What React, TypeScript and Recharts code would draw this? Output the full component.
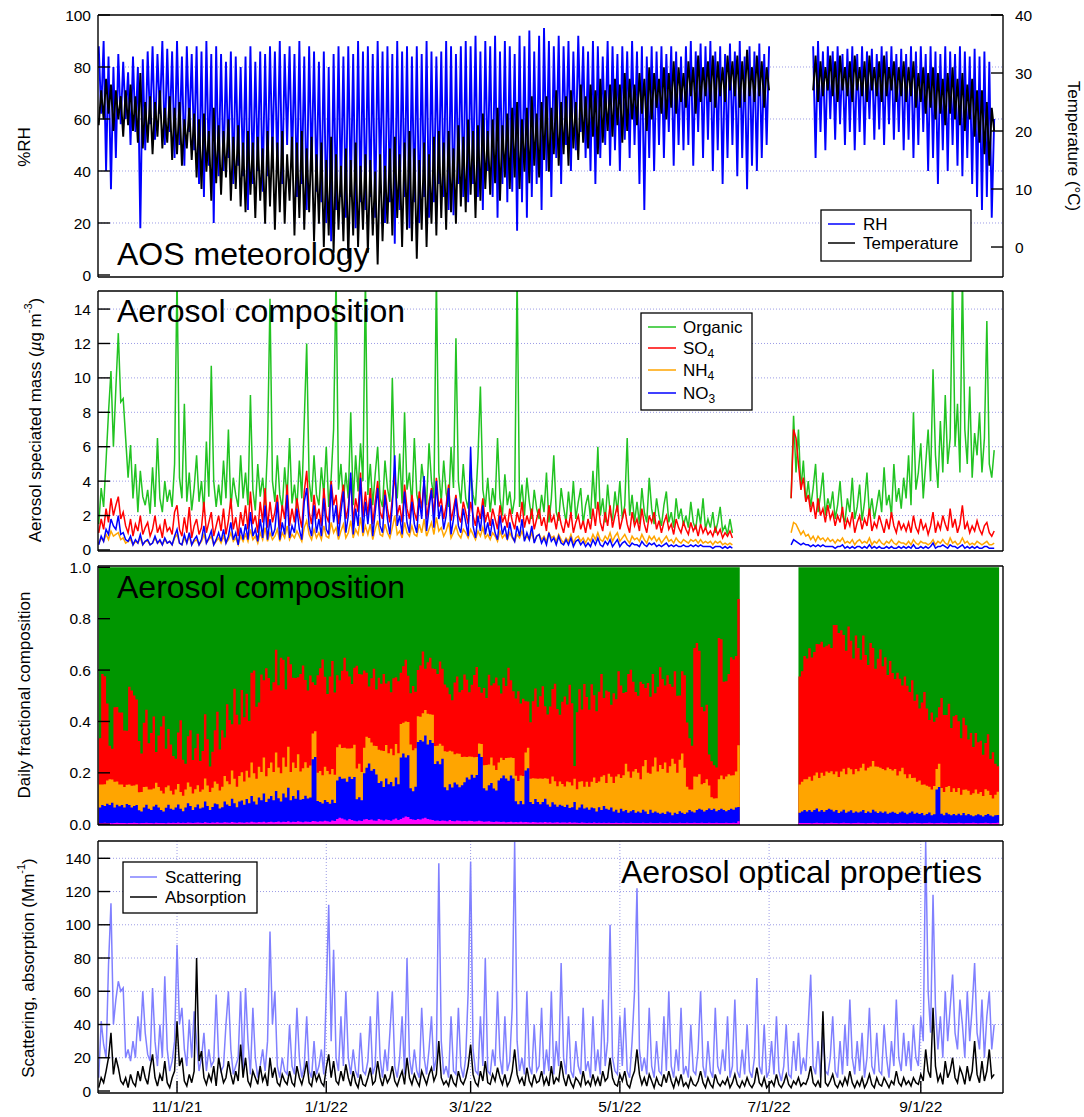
import { ComposedChart, Line, Area, XAxis, YAxis, CartesianGrid } from "recharts"

// day index 0 = 9/29/21, one value per day
const dateTicks = [32, 93, 152, 213, 274, 336]
const dateLabels = ["11/1/21", "1/1/22", "3/1/22", "5/1/22", "7/1/22", "9/1/22"]

// %RH
const rh: (number | null)[] = [
  88, 62, 90, 40, 84, 33, 80, 45, 85, 58, 82, 60, 78, 50, 84, 55, 80, 18, 83, 48,
  86, 58, 88, 52, 85, 62, 90, 50, 87, 55, 86, 45, 90, 50, 84, 42, 88, 55, 85, 48,
  88, 35, 86, 30, 90, 42, 85, 20, 88, 38, 85, 40, 82, 45, 86, 35, 84, 42, 80, 38,
  84, 25, 88, 35, 82, 40, 86, 32, 85, 38, 88, 45, 86, 40, 90, 35, 85, 50, 88, 42,
  85, 30, 90, 35, 84, 25, 88, 40, 86, 32, 82, 28, 86, 20, 80, 13, 85, 25, 88, 30,
  84, 22, 88, 30, 85, 18, 90, 28, 86, 25, 88, 30, 85, 22, 90, 35, 86, 20, 88, 28,
  85, 12, 90, 25, 86, 30, 88, 18, 84, 28, 88, 20, 85, 30, 90, 22, 86, 28, 84, 35,
  86, 30, 90, 25, 88, 23, 85, 35, 88, 30, 90, 28, 88, 35, 92, 30, 86, 25, 90, 40,
  88, 30, 92, 22, 86, 35, 90, 28, 88, 32, 85, 17, 92, 28, 88, 22, 94, 30, 86, 35,
  92, 25, 95, 40, 90, 30, 88, 45, 92, 35, 88, 50, 90, 40, 86, 48, 92, 55, 88, 45,
  86, 40, 90, 35, 88, 45, 84, 50, 90, 42, 88, 48, 85, 40, 88, 52, 86, 45, 90, 50,
  86, 35, 88, 25, 84, 45, 88, 40, 86, 50, 88, 45, 85, 55, 88, 42, 86, 50, 84, 48,
  88, 50, 90, 42, 86, 55, 89, 45, 88, 52, 90, 40, 86, 48, 88, 35, 85, 45, 89, 50,
  86, 38, 90, 45, 84, 33, 88, 42, 86, 40, 89, 45, 85, 50, 88,
  null, null, null, null, null, null, null, null, null, null, null, null, null, null, null, null, null,
  88, 45, 90, 55, 86, 48, 88, 60,
  86, 52, 88, 58, 85, 50, 87, 55, 88, 48, 85, 55, 88, 50, 86, 60, 87, 52, 85, 56,
  88, 50, 86, 58, 88, 52, 85, 55, 87, 48, 85, 52, 88, 45, 86, 50, 88, 55, 85, 40,
  88, 45, 86, 35, 85, 48, 88, 40, 86, 50, 85, 42, 88, 38, 86, 45, 84, 35, 87, 30,
  84, 25, 86, 30, 82, 22, 60, null, null,
]

// °C
const temp: (number | null)[] = [
  21, 27, 22, 29, 23, 28, 20, 27, 22, 26, 19, 27, 21, 28, 20, 26, 18, 30, 17, 25,
  18, 26, 16, 25, 19, 27, 17, 24, 18, 26, 15, 24, 16, 25, 14, 22, 17, 24, 15, 23,
  12, 22, 10, 23, 13, 20, 8, 24, 11, 21, 9, 20, 12, 22, 8, 19, 10, 21, 7, 18,
  6, 20, 9, 18, 5, 19, 8, 17, 4, 20, 7, 19, 3, 18, 6, 20, 4, 16, 8, 19,
  2, 18, 5, 20, 3, 17, 6, 19, 1, 16, 4, 18, 0, 15, 2, 19, -1, 16, 3, 14,
  1, 17, -2, 15, 2, 18, 0, 14, 3, 16, -1, 15, 2, 13, -3, 16, 1, 14, 4, 17,
  2, 19, 5, 16, 0, 18, 3, 20, 1, 17, -2, 15, 3, 18, 0, 16, 4, 19, 2, 20,
  5, 18, 3, 20, 6, 17, 4, 21, 7, 19, 6, 22, 9, 20, 5, 21, 8, 23, 10, 20,
  9, 22, 11, 24, 8, 21, 12, 23, 10, 24, 12, 25, 10, 22, 13, 24, 11, 26, 14, 23,
  12, 25, 15, 26, 13, 24, 16, 27, 14, 25, 16, 26, 14, 27, 17, 25, 15, 28, 18, 26,
  17, 28, 19, 27, 16, 29, 18, 27, 20, 28, 19, 29, 21, 28, 18, 30, 20, 29, 22, 28,
  21, 30, 23, 29, 20, 31, 22, 30, 24, 29, 23, 31, 22, 30, 24, 32, 23, 31, 25, 30,
  24, 32, 26, 31, 23, 33, 25, 31, 26, 32, 25, 33, 24, 32, 26, 31, 25, 33, 27, 32,
  26, 33, 24, 32, 25, 34, 26, 31, 25, 33, 26, 32, 24, 31, 27,
  null, null, null, null, null, null, null, null, null, null, null, null, null, null, null, null, null,
  27, 33, 25, 32, 26, 31, 27, 33,
  26, 32, 25, 33, 27, 31, 26, 32, 25, 33, 27, 31, 26, 32, 25, 33, 27, 31, 26, 32,
  25, 33, 26, 31, 27, 32, 25, 31, 26, 32, 25, 31, 26, 32, 24, 30, 25, 31, 23, 30,
  24, 31, 22, 30, 23, 29, 21, 30, 23, 31, 22, 29, 21, 30, 20, 28, 22, 29, 19, 27,
  18, 27, 16, 25, 14, 24, 20, null, null,
]

// µg m-3
const organic: (number | null)[] = [
  1.5, 3.6, 2.5, 5.2, 8.0, 10.4, 6.0, 9.4, 12.6, 8.6, 8.8, 6.5, 4.2, 6.1, 3.0, 5.0, 2.2, 4.6, 3.1, 2.6,
  3.5, 2.1, 4.8, 2.5, 6.5, 3.0, 2.2, 4.0, 2.8, 3.5, 2.5, 5.0, 16, 4.2, 3.0, 8.5, 2.8, 4.5, 2.3, 3.6,
  5.5, 2.8, 4.0, 2.2, 6.3, 3.1, 10.7, 4.0, 2.5, 3.8, 2.6, 5.2, 3.0, 7.0, 2.4, 4.2, 3.2, 2.5, 5.5, 3.0,
  4.5, 2.6, 9.0, 3.5, 2.3, 5.0, 3.1, 4.2, 2.6, 6.0, 14.6, 4.0, 2.8, 5.5, 3.2, 2.4, 4.8, 3.0, 6.5, 2.7,
  3.8, 2.4, 5.2, 3.0, 7.5, 12.0, 4.0, 2.8, 5.5, 3.2, 2.6, 4.8, 3.2, 6.0, 2.5, 4.2, 7.0, 16, 3.5, 5.0,
  2.8, 4.5, 3.0, 8.0, 2.6, 5.5, 3.4, 6.2, 4.0, 16, 3.2, 5.0, 2.6, 4.4, 6.0, 3.0, 2.5, 5.2, 3.6, 2.8,
  10.0, 4.2, 3.0, 5.6, 2.7, 8.0, 3.5, 4.5, 2.6, 6.5, 3.2, 2.5, 5.0, 3.8, 2.6, 6.2, 4.0, 3.0, 16, 4.5,
  2.8, 5.2, 3.3, 2.5, 6.0, 3.6, 12.3, 4.0, 2.7, 5.0, 3.0, 2.4, 4.6, 3.2, 2.6, 5.4, 9.5, 3.5, 2.5, 4.2,
  2.2, 3.6, 2.6, 6.5, 3.0, 2.0, 4.4, 2.6, 3.4, 2.1, 3.0, 16, 2.5, 3.8, 2.0, 4.2, 2.8, 1.8, 3.5, 2.4,
  1.8, 3.2, 2.2, 4.5, 1.6, 3.0, 5.5, 2.2, 1.7, 3.6, 2.5, 1.6, 3.4, 2.0, 4.0, 1.8, 2.8, 3.6, 1.5, 2.6,
  3.2, 1.8, 4.6, 2.4, 6.0, 2.0, 3.0, 1.6, 3.8, 2.2, 1.7, 3.4, 2.2, 4.0, 1.8, 2.6, 6.5, 2.0, 3.2, 1.6,
  2.8, 1.5, 3.6, 2.2, 1.6, 4.2, 2.4, 1.5, 3.0, 2.0, 1.4, 2.6, 3.4, 1.6, 2.2, 1.3, 3.0, 1.8, 2.4, 1.4,
  2.0, 1.3, 2.8, 1.6, 1.2, 2.4, 1.5, 3.0, 1.2, 1.8, 1.3, 2.2, 1.0, 1.6, 2.5, 1.1, 1.4, 0.9, 1.8, 1.0,
  null, null, null, null, null, null, null, null, null, null, null, null, null, null, null, null, null, null, null, null, null, null, null,
  3.0, 7.8, 4.5, 7.0, 3.5, 5.2, 2.8,
  4.0, 2.5, 3.6, 5.0, 2.2, 3.2, 4.5, 2.0, 3.0, 2.4, 3.4, 1.8, 2.6, 4.0, 2.0, 1.6, 3.0, 2.2, 4.2, 1.8,
  2.5, 3.8, 1.7, 2.8, 4.5, 2.0, 3.0, 1.8, 2.6, 3.5, 2.2, 4.8, 2.6, 3.2, 2.0, 5.0, 2.8, 3.6, 2.4, 4.2,
  3.0, 5.5, 2.6, 8.0, 3.5, 4.5, 6.2, 3.0, 5.0, 7.0, 4.0, 10.5, 5.5, 3.6, 7.5, 4.5, 9.0, 5.0, 6.5, 16,
  6.0, 8.5, 4.5, 16, 7.0, 5.0, 9.5, 4.2, 6.8, 5.5, 8.0, 4.5, 6.5, 13.3, 5.0, 4.2, 5.8, null, null,
]

const so4: (number | null)[] = [
  1.0, 1.8, 1.2, 2.4, 1.6, 3.0, 2.0, 2.6, 3.1, 1.8, 2.2, 1.4, 1.0, 1.8, 0.8, 1.5, 1.1, 2.0, 0.9, 1.3,
  1.6, 0.8, 1.2, 2.0, 1.0, 1.4, 0.7, 1.8, 1.1, 1.3, 0.9, 2.2, 2.6, 1.2, 0.8, 1.9, 1.0, 2.5, 0.7, 1.4,
  1.8, 0.9, 1.3, 2.8, 1.0, 1.6, 2.2, 0.8, 1.4, 2.0, 1.1, 2.4, 0.9, 1.7, 3.0, 1.2, 1.9, 0.8, 2.2, 1.4,
  2.6, 1.2, 3.4, 1.5, 2.0, 1.0, 2.8, 1.6, 3.6, 1.3, 2.8, 1.6, 2.2, 3.2, 1.2, 2.6, 1.8, 3.8, 1.4, 2.4,
  1.6, 3.0, 2.0, 1.3, 3.4, 4.6, 2.2, 1.5, 3.2, 1.8, 2.4, 1.4, 3.6, 2.0, 1.6, 4.0, 2.6, 3.2, 1.5, 2.8,
  3.8, 1.8, 2.5, 4.2, 1.6, 3.0, 2.2, 4.5, 1.9, 3.4, 2.0, 3.6, 1.5, 2.8, 4.0, 2.2, 1.8, 3.5, 2.4, 1.6,
  3.0, 4.4, 2.0, 2.6, 1.6, 3.8, 2.4, 1.8, 3.2, 2.2, 1.7, 3.4, 2.4, 4.0, 1.8, 2.8, 3.6, 2.0, 4.2, 2.5,
  3.0, 1.8, 2.6, 3.8, 1.7, 2.4, 3.2, 2.0, 1.6, 2.8, 2.2, 1.5, 2.8, 2.0, 1.4, 2.5, 1.8, 3.0, 1.6, 2.2,
  1.4, 2.4, 1.8, 1.2, 2.6, 1.6, 2.0, 1.3, 2.4, 1.7, 1.2, 2.2, 1.6, 2.8, 1.3, 2.0, 1.5, 2.4, 1.2, 1.8,
  2.4, 1.4, 1.9, 1.1, 2.6, 1.6, 2.0, 1.2, 2.2, 1.5, 1.0, 1.8, 1.3, 2.2, 1.0, 1.6, 2.0, 1.2, 1.7, 1.0,
  1.8, 1.2, 2.4, 1.4, 2.8, 1.6, 1.1, 2.2, 1.4, 2.6, 1.3, 2.0, 2.6, 1.2, 1.8, 2.4, 1.5, 1.0, 2.2, 1.4,
  1.8, 1.1, 2.4, 1.5, 1.0, 2.0, 1.6, 2.2, 1.2, 1.7, 1.0, 1.6, 2.0, 1.2, 1.5, 0.9, 1.8, 1.3, 1.0, 1.6,
  1.2, 0.9, 1.6, 1.1, 1.4, 0.8, 1.5, 1.0, 1.3, 0.9, 1.1, 0.8, 1.3, 0.9, 1.2, 0.7, 1.0, 0.8, 1.1, 0.7,
  null, null, null, null, null, null, null, null, null, null, null, null, null, null, null, null, null, null, null, null, null, null, null,
  3.0, 7.0, 6.5, 5.0, 3.5, 4.2, 2.8,
  3.2, 2.2, 2.8, 1.8, 3.0, 2.0, 2.4, 1.6, 2.6, 1.8, 2.2, 1.4, 2.0, 1.6, 2.5, 1.2, 1.8, 1.4, 2.2, 1.0,
  1.6, 2.0, 1.2, 1.8, 1.4, 2.4, 1.1, 1.6, 1.3, 2.0, 1.5, 1.0, 1.8, 1.2, 2.2, 1.4, 1.0, 1.7, 1.2, 1.5,
  1.1, 1.6, 1.0, 2.0, 1.3, 1.0, 1.8, 1.2, 1.5, 0.9, 1.4, 2.2, 1.0, 1.6, 1.2, 2.0, 1.5, 1.1, 2.4, 1.3,
  1.8, 1.0, 1.5, 2.6, 1.2, 1.6, 1.0, 1.4, 1.1, 1.7, 1.2, 0.9, 1.4, 1.6, 1.0, 0.8, 1.1, null, null,
]

const nh4: (number | null)[] = [
  0.4, 0.7, 0.5, 0.9, 0.6, 1.1, 0.8, 0.9, 1.0, 0.6, 0.7, 0.4, 0.5, 0.6, 0.3, 0.5, 0.4, 0.7, 0.3, 0.5,
  0.5, 0.3, 0.4, 0.7, 0.4, 0.5, 0.3, 0.6, 0.4, 0.5, 0.3, 0.7, 0.9, 0.4, 0.3, 0.7, 0.4, 0.8, 0.3, 0.5,
  0.6, 0.3, 0.5, 0.9, 0.4, 0.6, 0.8, 0.3, 0.5, 0.7, 0.4, 0.8, 0.4, 0.6, 1.0, 0.5, 0.7, 0.3, 0.8, 0.5,
  0.9, 0.5, 1.2, 0.6, 0.8, 0.4, 1.0, 0.6, 1.3, 0.5, 1.0, 0.6, 0.8, 1.2, 0.5, 1.0, 0.7, 1.4, 0.6, 0.9,
  0.7, 1.1, 0.8, 0.5, 1.3, 1.7, 0.9, 0.6, 1.2, 0.7, 1.0, 0.6, 1.4, 0.8, 0.7, 1.6, 1.0, 1.3, 0.6, 1.1,
  1.5, 0.7, 1.0, 1.7, 0.7, 1.2, 0.9, 1.9, 0.8, 1.4, 0.9, 1.5, 0.6, 1.2, 1.7, 0.9, 0.8, 1.5, 1.0, 0.7,
  1.3, 2.0, 0.9, 1.1, 0.7, 1.6, 1.0, 0.8, 1.4, 0.9, 0.8, 1.5, 1.0, 1.8, 0.8, 1.2, 1.6, 0.9, 1.9, 1.1,
  1.3, 0.8, 1.1, 1.6, 0.7, 1.0, 1.4, 0.9, 0.7, 1.2, 1.0, 0.7, 1.2, 0.9, 0.6, 1.1, 0.8, 1.3, 0.7, 0.9,
  0.6, 1.0, 0.8, 0.5, 1.1, 0.7, 0.9, 0.6, 1.0, 0.7, 0.5, 0.9, 0.7, 1.1, 0.6, 0.8, 0.6, 1.0, 0.5, 0.8,
  0.9, 0.6, 0.8, 0.5, 1.0, 0.7, 0.8, 0.5, 0.9, 0.6, 0.4, 0.7, 0.5, 0.9, 0.4, 0.7, 0.8, 0.5, 0.7, 0.4,
  0.7, 0.5, 0.9, 0.6, 1.0, 0.6, 0.5, 0.8, 0.6, 1.0, 0.5, 0.8, 1.0, 0.5, 0.7, 0.9, 0.6, 0.4, 0.8, 0.6,
  0.7, 0.5, 0.9, 0.6, 0.4, 0.8, 0.6, 0.8, 0.5, 0.7, 0.4, 0.6, 0.8, 0.5, 0.6, 0.4, 0.7, 0.5, 0.4, 0.6,
  0.5, 0.4, 0.6, 0.5, 0.6, 0.4, 0.6, 0.4, 0.5, 0.4, 0.5, 0.3, 0.5, 0.4, 0.5, 0.3, 0.4, 0.3, 0.4, 0.3,
  null, null, null, null, null, null, null, null, null, null, null, null, null, null, null, null, null, null, null, null, null, null, null,
  1.0, 1.6, 1.5, 1.2, 0.9, 1.1, 0.8,
  0.9, 0.6, 0.8, 0.5, 0.8, 0.6, 0.7, 0.5, 0.7, 0.5, 0.6, 0.4, 0.6, 0.5, 0.7, 0.4, 0.5, 0.4, 0.6, 0.3,
  0.5, 0.6, 0.4, 0.5, 0.4, 0.7, 0.3, 0.5, 0.4, 0.6, 0.4, 0.3, 0.5, 0.4, 0.6, 0.4, 0.3, 0.5, 0.4, 0.4,
  0.3, 0.5, 0.3, 0.6, 0.4, 0.3, 0.5, 0.4, 0.4, 0.3, 0.4, 0.6, 0.3, 0.5, 0.4, 0.6, 0.4, 0.3, 0.7, 0.4,
  0.5, 0.3, 0.4, 0.7, 0.4, 0.5, 0.3, 0.4, 0.3, 0.5, 0.4, 0.3, 0.4, 0.5, 0.3, 0.3, 0.4, null, null,
]

const no3: (number | null)[] = [
  0.3, 0.8, 0.5, 1.2, 0.9, 1.8, 1.4, 1.2, 2.0, 0.9, 1.0, 0.6, 0.5, 0.8, 0.3, 0.6, 0.4, 0.9, 0.3, 0.5,
  0.6, 0.3, 0.4, 0.8, 0.4, 0.6, 0.3, 0.7, 0.4, 0.5, 0.3, 0.8, 1.2, 0.4, 0.3, 0.9, 0.4, 1.0, 0.3, 0.6,
  0.8, 0.3, 0.6, 1.4, 0.4, 0.7, 1.1, 0.3, 0.6, 1.0, 0.5, 1.2, 0.4, 0.8, 1.6, 0.6, 1.0, 0.3, 1.3, 0.6,
  1.5, 0.6, 2.2, 0.8, 1.2, 0.5, 1.8, 0.7, 2.6, 0.6, 1.8, 0.8, 1.2, 2.8, 0.6, 1.6, 0.9, 3.2, 0.7, 1.4,
  1.0, 2.4, 1.2, 0.6, 2.8, 3.6, 1.4, 0.8, 2.6, 1.0, 1.8, 0.8, 3.0, 1.2, 0.9, 3.8, 1.6, 2.6, 0.8, 2.2,
  3.4, 1.0, 2.0, 4.5, 0.9, 2.4, 1.4, 4.2, 1.0, 2.8, 1.5, 3.0, 0.8, 2.2, 3.6, 1.4, 1.0, 3.2, 1.8, 0.9,
  2.6, 5.5, 1.4, 2.0, 0.9, 3.4, 1.6, 1.0, 2.8, 1.5, 1.0, 3.0, 1.8, 4.3, 1.1, 2.4, 3.5, 1.3, 4.0, 1.8,
  2.6, 1.2, 2.0, 3.6, 0.9, 1.8, 3.0, 1.4, 1.0, 2.4, 1.6, 0.8, 6.0, 1.4, 0.7, 2.0, 1.1, 2.6, 0.9, 1.6,
  0.8, 1.8, 1.0, 0.6, 2.0, 0.9, 1.4, 0.6, 1.6, 0.8, 0.5, 1.4, 0.8, 1.8, 0.5, 1.0, 0.6, 1.4, 0.4, 0.8,
  0.9, 0.4, 0.7, 0.3, 1.0, 0.5, 0.7, 0.3, 0.8, 0.4, 0.3, 0.6, 0.3, 0.7, 0.2, 0.5, 0.6, 0.3, 0.5, 0.2,
  0.4, 0.2, 0.6, 0.3, 0.7, 0.3, 0.2, 0.5, 0.3, 0.6, 0.2, 0.4, 0.6, 0.2, 0.4, 0.5, 0.3, 0.2, 0.4, 0.3,
  0.3, 0.2, 0.5, 0.3, 0.2, 0.4, 0.3, 0.4, 0.2, 0.3, 0.2, 0.3, 0.4, 0.2, 0.3, 0.2, 0.3, 0.2, 0.2, 0.3,
  0.2, 0.2, 0.3, 0.2, 0.3, 0.2, 0.3, 0.2, 0.2, 0.2, 0.2, 0.1, 0.2, 0.2, 0.2, 0.1, 0.2, 0.1, 0.2, 0.1,
  null, null, null, null, null, null, null, null, null, null, null, null, null, null, null, null, null, null, null, null, null, null, null,
  0.3, 0.6, 0.5, 0.4, 0.3, 0.4, 0.3,
  0.3, 0.2, 0.3, 0.2, 0.3, 0.2, 0.3, 0.2, 0.2, 0.2, 0.2, 0.1, 0.2, 0.2, 0.3, 0.1, 0.2, 0.1, 0.2, 0.1,
  0.2, 0.2, 0.1, 0.2, 0.1, 0.3, 0.1, 0.2, 0.1, 0.2, 0.1, 0.1, 0.2, 0.1, 0.2, 0.1, 0.1, 0.2, 0.1, 0.2,
  0.1, 0.2, 0.1, 0.3, 0.1, 0.1, 0.2, 0.1, 0.2, 0.1, 0.2, 0.4, 0.1, 0.2, 0.2, 0.3, 0.2, 0.1, 0.3, 0.2,
  0.2, 0.1, 0.2, 0.3, 0.1, 0.2, 0.1, 0.2, 0.1, 0.2, 0.1, 0.1, 0.2, 0.2, 0.1, 0.1, 0.1, null, null,
]

// daily fractional composition (organic is the remainder to 1)
const fracChl: (number | null)[] = [
  0.005, 0.005, 0.006, 0.005, 0.005, 0.004, 0.005, 0.006, 0.005, 0.005, 0.005, 0.004, 0.005, 0.005, 0.006, 0.005, 0.004, 0.005, 0.005, 0.006,
  0.005, 0.005, 0.004, 0.006, 0.005, 0.005, 0.005, 0.004, 0.006, 0.005, 0.006, 0.005, 0.007, 0.005, 0.006, 0.005, 0.007, 0.006, 0.005, 0.006,
  0.007, 0.006, 0.005, 0.008, 0.006, 0.005, 0.007, 0.006, 0.008, 0.006, 0.006, 0.008, 0.007, 0.006, 0.009, 0.007, 0.006, 0.008, 0.007, 0.006,
  0.008, 0.007, 0.01, 0.008, 0.007, 0.009, 0.008, 0.01, 0.007, 0.009, 0.01, 0.008, 0.009, 0.011, 0.008, 0.01, 0.009, 0.012, 0.008, 0.01,
  0.009, 0.012, 0.01, 0.008, 0.011, 0.01, 0.009, 0.013, 0.012, 0.01, 0.012, 0.011, 0.014, 0.012, 0.01, 0.015, 0.013, 0.02, 0.025, 0.022,
  0.018, 0.015, 0.02, 0.016, 0.014, 0.012, 0.015, 0.013, 0.018, 0.02, 0.016, 0.018, 0.015, 0.014, 0.02, 0.017, 0.015, 0.018, 0.016, 0.014,
  0.018, 0.022, 0.016, 0.02, 0.025, 0.03, 0.028, 0.02, 0.018, 0.016, 0.02, 0.018, 0.022, 0.025, 0.02, 0.018, 0.016, 0.014, 0.015, 0.013,
  0.015, 0.014, 0.012, 0.016, 0.013, 0.012, 0.015, 0.014, 0.012, 0.013, 0.012, 0.014, 0.013, 0.011, 0.012, 0.014, 0.012, 0.01, 0.011, 0.012,
  0.01, 0.009, 0.011, 0.01, 0.009, 0.01, 0.008, 0.009, 0.01, 0.008, 0.009, 0.008, 0.01, 0.008, 0.009, 0.008, 0.007, 0.009, 0.008, 0.007,
  0.008, 0.007, 0.009, 0.007, 0.008, 0.006, 0.007, 0.008, 0.006, 0.007, 0.007, 0.006, 0.008, 0.006, 0.007, 0.006, 0.005, 0.007, 0.006, 0.005,
  0.006, 0.005, 0.007, 0.005, 0.006, 0.005, 0.006, 0.005, 0.006, 0.005, 0.005, 0.006, 0.005, 0.005, 0.006, 0.005, 0.005, 0.006, 0.005, 0.005,
  0.005, 0.005, 0.006, 0.005, 0.005, 0.006, 0.005, 0.005, 0.005, 0.006, 0.005, 0.005, 0.005, 0.006, 0.005, 0.005, 0.005, 0.006, 0.005, 0.005,
  0.006, 0.005, 0.005, 0.006, 0.005, 0.005, 0.006, 0.005, 0.005, 0.006, 0.005, 0.005, 0.006, 0.005, 0.005, 0.005, 0.006, 0.005, 0.005, 0.006,
  0.005, 0.012, 0.01,
  null, null, null, null, null, null, null, null, null, null, null, null, null, null, null, null, null, null, null, null, null, null, null,
  0.005, 0.005, 0.005, 0.005,
  0.005, 0.004, 0.005, 0.006, 0.005, 0.005, 0.004, 0.005, 0.005, 0.006, 0.005, 0.005, 0.004, 0.005, 0.006, 0.005, 0.005, 0.004, 0.005, 0.005,
  0.006, 0.005, 0.005, 0.004, 0.005, 0.005, 0.006, 0.005, 0.004, 0.005, 0.005, 0.005, 0.006, 0.005, 0.004, 0.005, 0.005, 0.006, 0.005, 0.005,
  0.004, 0.005, 0.005, 0.006, 0.005, 0.005, 0.004, 0.005, 0.005, 0.006, 0.005, 0.004, 0.005, 0.005, 0.006, 0.005, 0.005, 0.004, 0.005, 0.005,
  0.005, 0.006, 0.005, 0.004, 0.005, 0.005, 0.005, 0.006, 0.005, 0.004,
  0.005, 0.005, 0.006, 0.005, 0.004, 0.005, 0.005, 0.006, 0.005,
]

const fracNO3: (number | null)[] = [
  0.06, 0.07, 0.065, 0.075, 0.07, 0.08, 0.06, 0.07, 0.065, 0.07, 0.06, 0.075, 0.07, 0.06, 0.065, 0.07, 0.05, 0.045, 0.06, 0.07,
  0.055, 0.05, 0.065, 0.07, 0.06, 0.05, 0.045, 0.06, 0.07, 0.055, 0.05, 0.06, 0.07, 0.055, 0.045, 0.06, 0.075, 0.065, 0.05, 0.06,
  0.07, 0.055, 0.06, 0.08, 0.065, 0.05, 0.06, 0.075, 0.07, 0.055, 0.06, 0.08, 0.07, 0.065, 0.09, 0.075, 0.06, 0.08, 0.085, 0.07,
  0.09, 0.075, 0.1, 0.08, 0.07, 0.095, 0.085, 0.11, 0.08, 0.09, 0.1, 0.085, 0.12, 0.09, 0.08, 0.11, 0.095, 0.13, 0.085, 0.1,
  0.09, 0.12, 0.085, 0.09, 0.1, 0.09, 0.095, 0.24, 0.25, 0.08, 0.075, 0.07, 0.08, 0.075, 0.07, 0.08, 0.07, 0.15, 0.16, 0.155,
  0.16, 0.15, 0.165, 0.16, 0.17, 0.085, 0.09, 0.08, 0.18, 0.2, 0.22, 0.19, 0.2, 0.18, 0.14, 0.15, 0.13, 0.16, 0.14, 0.15,
  0.13, 0.16, 0.14, 0.24, 0.25, 0.23, 0.24, 0.12, 0.11, 0.13, 0.3, 0.31, 0.3, 0.32, 0.29, 0.31, 0.3, 0.22, 0.23, 0.22,
  0.24, 0.13, 0.12, 0.14, 0.13, 0.15, 0.14, 0.13, 0.14, 0.15, 0.17, 0.16, 0.18, 0.17, 0.18, 0.26, 0.25, 0.13, 0.12, 0.14,
  0.15, 0.13, 0.12, 0.16, 0.17, 0.18, 0.17, 0.16, 0.18, 0.17, 0.08, 0.07, 0.08, 0.07, 0.2, 0.21, 0.08, 0.07, 0.09, 0.08,
  0.07, 0.08, 0.09, 0.07, 0.06, 0.08, 0.07, 0.06, 0.07, 0.065, 0.06, 0.07, 0.055, 0.06, 0.08, 0.05, 0.06, 0.07, 0.055, 0.06,
  0.05, 0.06, 0.055, 0.045, 0.06, 0.05, 0.065, 0.055, 0.05, 0.06, 0.045, 0.05, 0.04, 0.055, 0.045, 0.05, 0.04, 0.045, 0.05, 0.04,
  0.045, 0.04, 0.05, 0.045, 0.035, 0.05, 0.04, 0.045, 0.04, 0.035, 0.04, 0.035, 0.045, 0.04, 0.03, 0.04, 0.035, 0.045, 0.04, 0.035,
  0.04, 0.05, 0.045, 0.04, 0.05, 0.055, 0.05, 0.045, 0.05, 0.055, 0.05, 0.055, 0.045, 0.05, 0.055, 0.05, 0.045, 0.05, 0.055, 0.05,
  0.06, 0.055, 0.06,
  null, null, null, null, null, null, null, null, null, null, null, null, null, null, null, null, null, null, null, null, null, null, null,
  0.04, 0.045, 0.05, 0.045,
  0.05, 0.045, 0.05, 0.055, 0.045, 0.05, 0.045, 0.05, 0.055, 0.05, 0.045, 0.05, 0.04, 0.045, 0.05, 0.04, 0.045, 0.05, 0.04, 0.045,
  0.04, 0.045, 0.05, 0.04, 0.045, 0.04, 0.05, 0.045, 0.04, 0.045, 0.04, 0.045, 0.035, 0.04, 0.045, 0.04, 0.035, 0.04, 0.045, 0.04,
  0.035, 0.04, 0.045, 0.035, 0.04, 0.035, 0.04, 0.03, 0.035, 0.04, 0.03, 0.035, 0.13, 0.14, 0.035, 0.03, 0.04, 0.035, 0.03, 0.035,
  0.03, 0.035, 0.03, 0.04, 0.03, 0.035, 0.03, 0.025, 0.03, 0.035,
  0.03, 0.025, 0.03, 0.035, 0.03, 0.025, 0.03, 0.03, 0.025,
]

const fracNH4: (number | null)[] = [
  0.09, 0.08, 0.085, 0.09, 0.1, 0.09, 0.1, 0.09, 0.085, 0.08, 0.08, 0.075, 0.08, 0.085, 0.08, 0.08, 0.07, 0.075, 0.08, 0.07,
  0.075, 0.08, 0.07, 0.085, 0.08, 0.075, 0.07, 0.08, 0.075, 0.07, 0.06, 0.07, 0.08, 0.065, 0.06, 0.07, 0.08, 0.075, 0.065, 0.07,
  0.075, 0.065, 0.07, 0.09, 0.08, 0.07, 0.075, 0.085, 0.08, 0.07, 0.08, 0.1, 0.09, 0.085, 0.11, 0.095, 0.08, 0.1, 0.11, 0.09,
  0.11, 0.1, 0.13, 0.11, 0.1, 0.12, 0.11, 0.14, 0.1, 0.12, 0.13, 0.11, 0.15, 0.12, 0.11, 0.14, 0.12, 0.16, 0.11, 0.13,
  0.12, 0.14, 0.11, 0.12, 0.13, 0.12, 0.125, 0.1, 0.1, 0.11, 0.12, 0.11, 0.13, 0.12, 0.115, 0.12, 0.11, 0.13, 0.125, 0.12,
  0.12, 0.13, 0.11, 0.12, 0.125, 0.12, 0.13, 0.11, 0.1, 0.12, 0.1, 0.11, 0.09, 0.11, 0.13, 0.12, 0.14, 0.13, 0.12, 0.13,
  0.12, 0.13, 0.12, 0.13, 0.12, 0.14, 0.13, 0.17, 0.16, 0.15, 0.1, 0.09, 0.11, 0.1, 0.12, 0.1, 0.11, 0.07, 0.06, 0.08,
  0.05, 0.14, 0.15, 0.13, 0.14, 0.11, 0.12, 0.13, 0.11, 0.1, 0.08, 0.09, 0.07, 0.08, 0.07, 0.04, 0.05, 0.09, 0.1, 0.08,
  0.1, 0.09, 0.08, 0.07, 0.08, 0.06, 0.08, 0.09, 0.07, 0.08, 0.1, 0.09, 0.1, 0.11, 0.07, 0.08, 0.09, 0.1, 0.08, 0.09,
  0.1, 0.09, 0.08, 0.1, 0.09, 0.1, 0.09, 0.08, 0.09, 0.085, 0.08, 0.09, 0.1, 0.085, 0.09, 0.08, 0.1, 0.09, 0.085, 0.1,
  0.09, 0.1, 0.12, 0.11, 0.1, 0.13, 0.12, 0.1, 0.14, 0.12, 0.11, 0.13, 0.15, 0.12, 0.14, 0.18, 0.16, 0.13, 0.15, 0.17,
  0.15, 0.13, 0.17, 0.2, 0.16, 0.14, 0.18, 0.21, 0.16, 0.19, 0.17, 0.2, 0.15, 0.18, 0.22, 0.19, 0.16, 0.2, 0.23, 0.18,
  0.1, 0.08, 0.085, 0.14, 0.13, 0.135, 0.1, 0.11, 0.12, 0.09, 0.05, 0.04, 0.05, 0.12, 0.13, 0.12, 0.135, 0.14, 0.13, 0.135,
  0.14, 0.24, 0.245,
  null, null, null, null, null, null, null, null, null, null, null, null, null, null, null, null, null, null, null, null, null, null, null,
  0.11, 0.115, 0.12, 0.125,
  0.13, 0.12, 0.135, 0.14, 0.13, 0.145, 0.14, 0.15, 0.14, 0.15, 0.145, 0.15, 0.14, 0.155, 0.16, 0.15, 0.17, 0.16, 0.15, 0.165,
  0.16, 0.17, 0.18, 0.165, 0.17, 0.18, 0.19, 0.175, 0.18, 0.17, 0.17, 0.16, 0.18, 0.17, 0.16, 0.17, 0.15, 0.16, 0.17, 0.15,
  0.14, 0.15, 0.13, 0.14, 0.12, 0.13, 0.11, 0.12, 0.11, 0.1, 0.1, 0.11, 0.08, 0.09, 0.1, 0.09, 0.1, 0.11, 0.09, 0.1,
  0.09, 0.1, 0.08, 0.09, 0.1, 0.09, 0.08, 0.09, 0.1, 0.08,
  0.09, 0.08, 0.1, 0.09, 0.08, 0.07, 0.08, 0.09, 0.07,
]

const fracSO4: (number | null)[] = [
  0.18, 0.43, 0.42, 0.3, 0.13, 0.12, 0.29, 0.29, 0.28, 0.28, 0.22, 0.21, 0.38, 0.37, 0.35, 0.33, 0.2, 0.15, 0.25, 0.3,
  0.18, 0.22, 0.28, 0.12, 0.2, 0.25, 0.3, 0.15, 0.22, 0.18, 0.15, 0.12, 0.2, 0.28, 0.14, 0.1, 0.18, 0.22, 0.13, 0.16,
  0.2, 0.12, 0.15, 0.25, 0.18, 0.1, 0.14, 0.2, 0.28, 0.16, 0.22, 0.15, 0.3, 0.25, 0.18, 0.35, 0.28, 0.2, 0.32, 0.25,
  0.3, 0.22, 0.35, 0.4, 0.28, 0.25, 0.38, 0.3, 0.42, 0.35, 0.28, 0.35, 0.4, 0.32, 0.45, 0.38, 0.3, 0.35, 0.42, 0.33,
  0.35, 0.3, 0.38, 0.4, 0.32, 0.3, 0.35, 0.2, 0.18, 0.38, 0.4, 0.45, 0.35, 0.3, 0.38, 0.42, 0.32, 0.28, 0.25, 0.3,
  0.35, 0.3, 0.28, 0.25, 0.3, 0.4, 0.35, 0.38, 0.3, 0.25, 0.2, 0.25, 0.3, 0.22, 0.28, 0.26, 0.3, 0.24, 0.28, 0.22,
  0.3, 0.26, 0.28, 0.2, 0.22, 0.24, 0.18, 0.2, 0.25, 0.22, 0.18, 0.2, 0.24, 0.16, 0.2, 0.22, 0.18, 0.3, 0.28, 0.32,
  0.3, 0.26, 0.25, 0.22, 0.2, 0.28, 0.3, 0.24, 0.26, 0.32, 0.3, 0.25, 0.28, 0.32, 0.35, 0.22, 0.2, 0.3, 0.26, 0.35,
  0.28, 0.32, 0.36, 0.3, 0.25, 0.32, 0.28, 0.35, 0.3, 0.26, 0.3, 0.35, 0.28, 0.3, 0.2, 0.18, 0.22, 0.3, 0.35, 0.28,
  0.32, 0.36, 0.28, 0.25, 0.3, 0.34, 0.38, 0.3, 0.26, 0.32, 0.35, 0.3, 0.38, 0.32, 0.05, 0.3, 0.36, 0.28, 0.4, 0.33,
  0.3, 0.38, 0.32, 0.28, 0.35, 0.4, 0.3, 0.36, 0.32, 0.28, 0.35, 0.3, 0.4, 0.36, 0.32, 0.28, 0.38, 0.42, 0.35, 0.3,
  0.3, 0.38, 0.32, 0.28, 0.35, 0.3, 0.36, 0.25, 0.33, 0.38, 0.35, 0.3, 0.38, 0.32, 0.28, 0.36, 0.3, 0.25, 0.32, 0.36,
  0.25, 0.2, 0.17, 0.5, 0.52, 0.48, 0.3, 0.28, 0.29, 0.12, 0.14, 0.13, 0.12, 0.55, 0.53, 0.38, 0.37, 0.39, 0.46, 0.45,
  0.45, 0.57, 0.56,
  null, null, null, null, null, null, null, null, null, null, null, null, null, null, null, null, null, null, null, null, null, null, null,
  0.42, 0.43, 0.48, 0.47,
  0.5, 0.48, 0.48, 0.5, 0.52, 0.51, 0.5, 0.49, 0.5, 0.48, 0.58, 0.57, 0.56, 0.55, 0.52, 0.48, 0.55, 0.5, 0.45, 0.52,
  0.48, 0.42, 0.5, 0.45, 0.4, 0.48, 0.44, 0.38, 0.42, 0.46, 0.4, 0.44, 0.36, 0.42, 0.38, 0.35, 0.4, 0.36, 0.32, 0.38,
  0.36, 0.32, 0.38, 0.3, 0.34, 0.28, 0.32, 0.36, 0.3, 0.26, 0.3, 0.25, 0.2, 0.22, 0.35, 0.3, 0.28, 0.32, 0.25, 0.28,
  0.3, 0.26, 0.22, 0.28, 0.25, 0.2, 0.24, 0.18, 0.22, 0.2,
  0.2, 0.16, 0.18, 0.22, 0.14, 0.18, 0.12, 0.1, 0.08,
]

// Mm-1
const scattering: (number | null)[] = [
  8, 42, 28, 20, 76, 113, 40, 55, 66, 60, 62, 20, 25, 18, 30, 20, 45, 30, 60, 35,
  22, 18, 62, 30, 15, 40, 20, 69, 25, 12, 18, 30, 88, 40, 50, 25, 15, 43, 20, 48,
  30, 12, 20, 35, 12, 25, 15, 18, 58, 20, 12, 15, 40, 60, 25, 10, 15, 20, 60, 12,
  62, 30, 10, 50, 20, 8, 15, 25, 12, 30, 96, 40, 60, 15, 8, 20, 12, 10, 40, 15,
  10, 50, 20, 8, 15, 45, 12, 8, 30, 10, 15, 25, 10, 60, 112, 30, 85, 20, 12, 45,
  15, 60, 20, 10, 25, 12, 8, 35, 12, 10, 18, 45, 10, 15, 60, 20, 8, 25, 12, 35,
  60, 15, 8, 20, 45, 10, 80, 20, 10, 25, 12, 8, 50, 20, 10, 25, 45, 12, 20, 137,
  30, 10, 15, 8, 45, 12, 10, 50, 15, 8, 20, 60, 138, 25, 12, 10, 45, 15, 80, 12,
  10, 25, 15, 60, 20, 10, 45, 12, 18, 50, 150, 30, 12, 20, 10, 60, 15, 10, 40, 12,
  15, 50, 10, 25, 12, 60, 10, 30, 15, 77, 20, 10, 45, 12, 8, 30, 15, 10, 50, 12,
  18, 8, 45, 12, 25, 10, 55, 15, 30, 100, 20, 12, 10, 45, 15, 50, 12, 8, 30, 60,
  122, 25, 12, 20, 10, 50, 15, 8, 30, 12, 10, 45, 12, 60, 15, 8, 25, 12, 50, 10,
  15, 8, 40, 12, 10, 25, 60, 15, 8, 30, 12, 8, 50, 15, 10, 25, 12, 45, 8, 15,
  55, 12, 8, 25, 10, 40, 12, 8, 20, 68, 15, 10, 40, 8, 12, 30, 10, 45, 12, 6,
  15, 40, 10, 8, 30, 12, 35, 10, 20, 12, 40, 70, 15, 10, 30, 8, 35, 12, 10, 20,
  45, 12, 8, 30, 10, 40, 15, 55, 20, 10, 30, 12, 35, 8, 20, 50, 15, 10, 35, 12,
  10, 40, 20, 8, 30, 15, 55, 20, 12, 35, 15, 30, 12, 40, 20, 15, 45, 30, 150, 60,
  35, 118, 50, 25, 45, 20, 60, 30, 50, 70, 35, 25, 55, 40, 20, 60, 30, 50, 77, 35,
  25, 55, 20, 45, 60, 25, 40, null, null,
]

const absorption: (number | null)[] = [
  2, 8, 5, 12, 20, 35, 10, 20, 14, 6, 4, 8, 2, 10, 5, 3, 12, 6, 15, 8,
  4, 14, 22, 8, 3, 10, 6, 18, 5, 2, 8, 12, 42, 15, 20, 6, 3, 10, 5, 12,
  80, 18, 24, 8, 4, 10, 6, 15, 3, 20, 12, 5, 8, 18, 10, 4, 12, 6, 28, 8,
  20, 6, 3, 12, 8, 4, 15, 6, 10, 3, 20, 8, 14, 5, 3, 10, 6, 4, 12, 5,
  3, 15, 8, 4, 10, 18, 5, 3, 12, 6, 10, 5, 3, 14, 22, 8, 18, 6, 4, 12,
  6, 16, 8, 3, 12, 5, 2, 10, 4, 3, 8, 14, 4, 6, 18, 8, 3, 10, 5, 8,
  15, 6, 3, 8, 12, 4, 20, 8, 4, 10, 6, 3, 12, 8, 4, 10, 14, 6, 10, 30,
  8, 4, 6, 3, 10, 5, 3, 12, 6, 4, 8, 15, 28, 10, 5, 3, 12, 6, 18, 5,
  4, 10, 6, 14, 8, 4, 10, 3, 6, 12, 25, 10, 5, 8, 3, 14, 6, 3, 10, 5,
  6, 12, 4, 8, 3, 15, 4, 8, 6, 18, 8, 3, 10, 5, 2, 8, 6, 3, 12, 4,
  6, 3, 10, 4, 8, 3, 12, 6, 8, 20, 8, 4, 3, 10, 6, 12, 4, 2, 8, 12,
  25, 10, 4, 8, 3, 10, 6, 2, 8, 4, 3, 10, 5, 12, 6, 2, 8, 4, 10, 3,
  5, 2, 8, 4, 3, 6, 12, 5, 2, 8, 4, 2, 10, 5, 3, 6, 4, 8, 2, 5,
  10, 4, 2, 6, 3, 8, 4, 2, 5, 14, 5, 3, 8, 2, 4, 6, 3, 10, 4, 2,
  5, 10, 4, 2, 6, 4, 8, 3, 5, 4, 8, 15, 5, 3, 6, 2, 48, 5, 3, 6,
  10, 4, 2, 6, 3, 8, 4, 12, 5, 2, 6, 3, 8, 2, 5, 10, 4, 2, 8, 4,
  3, 8, 5, 2, 6, 4, 12, 5, 3, 8, 4, 6, 3, 8, 5, 4, 10, 6, 25, 12,
  8, 50, 15, 6, 10, 4, 18, 8, 12, 20, 8, 5, 14, 10, 4, 15, 6, 12, 30, 10,
  5, 18, 6, 12, 25, 8, 10, null, null,
]

const rows = rh.map((_, i) => {
  const m = fracChl[i]
  const n = fracNO3[i]
  const h = fracNH4[i]
  const s = fracSO4[i]
  const ok = m != null && n != null && h != null && s != null
  return {
    i,
    rh: rh[i],
    temp: temp[i],
    org: organic[i],
    so4: so4[i],
    nh4: nh4[i],
    no3: no3[i],
    cChl: ok ? m : null,
    cNO3: ok ? m! + n! : null,
    cNH4: ok ? m! + n! + h! : null,
    cSO4: ok ? m! + n! + h! + s! : null,
    cOrg: ok ? 1 : null,
    scat: scattering[i],
    abs: absorption[i],
  }
})

const FONT = '"Liberation Sans", Arial, Helvetica, sans-serif'
const W = 1084
const X_DOMAIN: [number, number] = [-0.3, 369.6]
const TICK = { fontSize: 15.5, fill: "#000", fontFamily: FONT }
const FRAME = { stroke: "#000", strokeWidth: 1.4 }
const GRID = "#9c9ce6"

const fmtDate = (v: number) => dateLabels[dateTicks.indexOf(v)] ?? ""

function frame(yDomain: [number, number], yTicks: number[], opts: { dates?: boolean; bottomH?: number; mirrorRight?: boolean; yFmt?: (v: number) => string }) {
  const out = [
    <XAxis key="xb" xAxisId={0} dataKey="i" type="number" domain={X_DOMAIN} allowDataOverflow ticks={dateTicks} interval={0}
      height={opts.bottomH ?? 30} tickSize={-12} tickMargin={20} axisLine={FRAME} tickLine={FRAME}
      tick={opts.dates ? TICK : false} tickFormatter={fmtDate} />,
    <XAxis key="xt" xAxisId="top" orientation="top" dataKey="i" type="number" domain={X_DOMAIN} allowDataOverflow ticks={dateTicks}
      interval={0} height={10} tickSize={-12} axisLine={FRAME} tickLine={FRAME} tick={false} />,
    <YAxis key="yl" yAxisId={0} type="number" domain={yDomain} allowDataOverflow ticks={yTicks} interval={0} width={98}
      tickSize={-12} tickMargin={19} axisLine={FRAME} tickLine={FRAME} tick={TICK} tickFormatter={opts.yFmt} />,
  ]
  if (opts.mirrorRight) {
    out.push(
      <YAxis key="yr" yAxisId="r" orientation="right" type="number" domain={yDomain} allowDataOverflow ticks={yTicks} interval={0}
        width={81} tickSize={-12} axisLine={FRAME} tickLine={FRAME} tick={false} />
    )
  }
  return out
}

const panel = (top: number) => ({ position: "absolute" as const, left: 0, top })

export default function App() {
  return (
    <div style={{ position: "absolute", left: 0, top: 0, width: W, height: 1117, overflow: "hidden", background: "#fff", fontFamily: FONT }}>
      {/* meteorology */}
      <div style={panel(5)}>
        <ComposedChart width={W} height={302} data={rows} margin={{ top: 0, right: 0, bottom: 0, left: 0 }}>
          <CartesianGrid xAxisId={0} yAxisId={0} stroke={GRID} strokeDasharray="1 2" horizontalValues={[20, 40, 60, 80]} verticalValues={dateTicks} />
          {frame([-0.77, 100], [0, 20, 40, 60, 80, 100], {})}
          <YAxis yAxisId="temp" orientation="right" type="number" domain={[-5.17, 40]} allowDataOverflow ticks={[0, 10, 20, 30, 40]}
            interval={0} width={81} tickSize={-12} tickMargin={24} axisLine={FRAME} tickLine={FRAME} tick={TICK} />
          <Line yAxisId={0} dataKey="rh" stroke="#0000ff" strokeWidth={1.9} dot={false} isAnimationActive={false} />
          <Line yAxisId="temp" dataKey="temp" stroke="#000" strokeWidth={1.9} dot={false} isAnimationActive={false} />
        </ComposedChart>
      </div>

      {/* speciated mass */}
      <div style={panel(281)}>
        <ComposedChart width={W} height={300} data={rows} margin={{ top: 0, right: 0, bottom: 0, left: 0 }}>
          <CartesianGrid xAxisId={0} yAxisId={0} stroke={GRID} strokeDasharray="1 2" horizontalValues={[2, 4, 6, 8, 10, 12, 14]} verticalValues={dateTicks} />
          {frame([-0.06, 15.05], [0, 2, 4, 6, 8, 10, 12, 14], { mirrorRight: true })}
          <Line yAxisId={0} dataKey="org" stroke="#22c322" strokeWidth={1.5} dot={false} isAnimationActive={false} />
          <Line yAxisId={0} dataKey="so4" stroke="#ff0000" strokeWidth={1.5} dot={false} isAnimationActive={false} />
          <Line yAxisId={0} dataKey="nh4" stroke="#ffa500" strokeWidth={1.5} dot={false} isAnimationActive={false} />
          <Line yAxisId={0} dataKey="no3" stroke="#0000ff" strokeWidth={1.5} dot={false} isAnimationActive={false} />
        </ComposedChart>
      </div>

      {/* daily fractional composition */}
      <div style={panel(556)}>
        <ComposedChart width={W} height={299} data={rows} margin={{ top: 0, right: 0, bottom: 0, left: 0 }}>
          {frame([-0.003, 1.005], [0, 0.2, 0.4, 0.6, 0.8, 1.0], { mirrorRight: true, yFmt: (v) => v.toFixed(1) })}
          <Area yAxisId={0} type="stepAfter" dataKey="cOrg" fill="#009600" fillOpacity={1} stroke="none" baseValue="dataMin" isAnimationActive={false} />
          <Area yAxisId={0} type="stepAfter" dataKey="cSO4" fill="#ff0000" fillOpacity={1} stroke="none" baseValue="dataMin" isAnimationActive={false} />
          <Area yAxisId={0} type="stepAfter" dataKey="cNH4" fill="#ffa500" fillOpacity={1} stroke="none" baseValue="dataMin" isAnimationActive={false} />
          <Area yAxisId={0} type="stepAfter" dataKey="cNO3" fill="#0000ff" fillOpacity={1} stroke="none" baseValue="dataMin" isAnimationActive={false} />
          <Area yAxisId={0} type="stepAfter" dataKey="cChl" fill="#ff00ff" fillOpacity={1} stroke="none" baseValue="dataMin" isAnimationActive={false} />
        </ComposedChart>
      </div>

      {/* optical properties */}
      <div style={panel(831)}>
        <ComposedChart width={W} height={286} data={rows} margin={{ top: 0, right: 0, bottom: 0, left: 0 }}>
          <CartesianGrid xAxisId={0} yAxisId={0} stroke={GRID} strokeDasharray="1 2" horizontalValues={[20, 40, 60, 80, 100, 120, 140]} verticalValues={dateTicks} />
          {frame([-1.2, 150.4], [0, 20, 40, 60, 80, 100, 120, 140], { dates: true, bottomH: 24, mirrorRight: true })}
          <Line yAxisId={0} dataKey="scat" stroke="#8080ff" strokeWidth={1.5} dot={false} isAnimationActive={false} />
          <Line yAxisId={0} dataKey="abs" stroke="#000" strokeWidth={1.5} dot={false} isAnimationActive={false} />
        </ComposedChart>
      </div>

      {/* titles, axis titles, legends */}
      <svg width={W} height={1117} style={{ position: "absolute", left: 0, top: 0, pointerEvents: "none" }} fontFamily={FONT}>
        <text x={117} y={265} fontSize={32}>AOS meteorology</text>
        <text x={117} y={322} fontSize={32}>Aerosol composition</text>
        <text x={117} y={598} fontSize={32}>Aerosol composition</text>
        <text x={621} y={883} fontSize={32}>Aerosol optical properties</text>

        <text transform="translate(24,147) rotate(-90)" textAnchor="middle" dominantBaseline="central" fontSize={17}>%RH</text>
        <text transform="translate(1073,146) rotate(90)" textAnchor="middle" dominantBaseline="central" fontSize={17}>Temperature (°C)</text>
        <text transform="translate(35,420) rotate(-90)" textAnchor="middle" dominantBaseline="central" fontSize={17}>
          Aerosol speciated mass (<tspan fontStyle="italic">µ</tspan>g m<tspan dy={-7} fontSize={11}>-3</tspan><tspan dy={7}>)</tspan>
        </text>
        <text transform="translate(24,695) rotate(-90)" textAnchor="middle" dominantBaseline="central" fontSize={17}>Daily fractional composition</text>
        <text transform="translate(28,968) rotate(-90)" textAnchor="middle" dominantBaseline="central" fontSize={17}>
          Scattering, absorption (Mm<tspan dy={-7} fontSize={11}>-1</tspan><tspan dy={7}>)</tspan>
        </text>

        <g fontSize={17}>
          <rect x={821} y={210} width={150} height={51} fill="#fff" stroke="#000" strokeWidth={1.3} />
          <line x1={828} x2={855} y1={224} y2={224} stroke="#0000ff" strokeWidth={1.5} />
          <text x={863} y={230}>RH</text>
          <line x1={828} x2={855} y1={243} y2={243} stroke="#000" strokeWidth={1.5} />
          <text x={863} y={249}>Temperature</text>

          <rect x={641} y={313} width={111} height={97} fill="#fff" stroke="#000" strokeWidth={1.3} />
          <line x1={648} x2={676} y1={327} y2={327} stroke="#22c322" strokeWidth={1.5} />
          <text x={683} y={333}>Organic</text>
          <line x1={648} x2={676} y1={348} y2={348} stroke="#ff0000" strokeWidth={1.5} />
          <text x={683} y={354}>SO<tspan dy={4} fontSize={12}>4</tspan></text>
          <line x1={648} x2={676} y1={370} y2={370} stroke="#ffa500" strokeWidth={1.5} />
          <text x={683} y={376}>NH<tspan dy={4} fontSize={12}>4</tspan></text>
          <line x1={648} x2={676} y1={393} y2={393} stroke="#0000ff" strokeWidth={1.5} />
          <text x={683} y={399}>NO<tspan dy={4} fontSize={12}>3</tspan></text>

          <rect x={123} y={862} width={134} height={51} fill="#fff" stroke="#000" strokeWidth={1.3} />
          <line x1={130} x2={157} y1={877} y2={877} stroke="#8080ff" strokeWidth={1.5} />
          <text x={165} y={883}>Scattering</text>
          <line x1={130} x2={157} y1={897} y2={897} stroke="#000" strokeWidth={1.5} />
          <text x={165} y={903}>Absorption</text>
        </g>
      </svg>
    </div>
  )
}
